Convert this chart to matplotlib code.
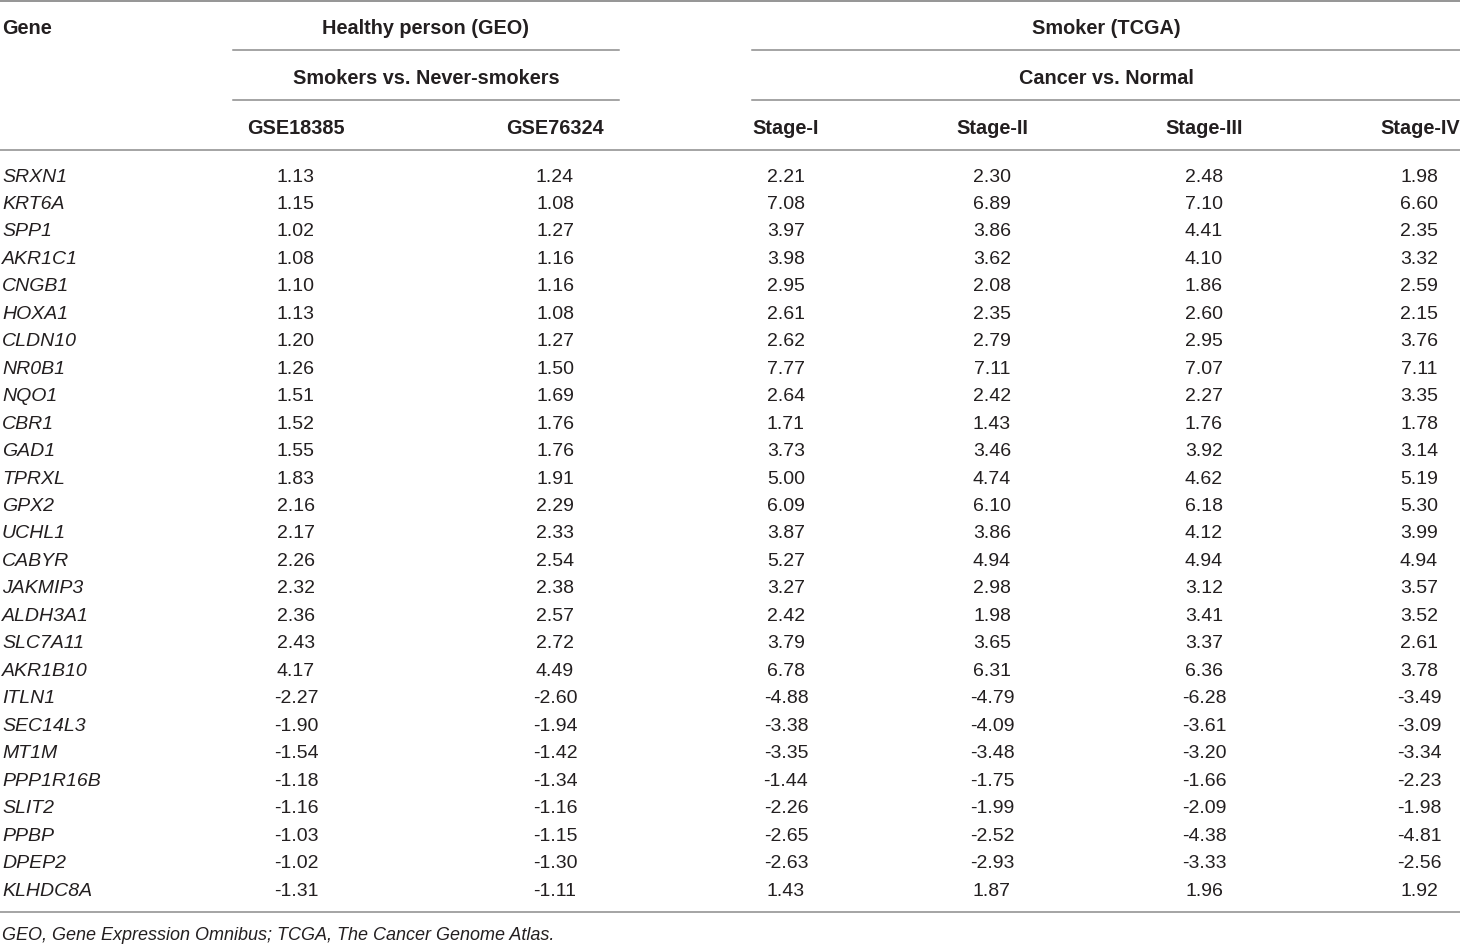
import matplotlib
matplotlib.use("Agg")
from matplotlib import pyplot as plt

genes = ["SRXN1", "KRT6A", "SPP1", "AKR1C1", "CNGB1", "HOXA1", "CLDN10", "NR0B1",
         "NQO1", "CBR1", "GAD1", "TPRXL", "GPX2", "UCHL1", "CABYR", "JAKMIP3",
         "ALDH3A1", "SLC7A11", "AKR1B10", "ITLN1", "SEC14L3", "MT1M", "PPP1R16B",
         "SLIT2", "PPBP", "DPEP2", "KLHDC8A"]

gse18385 = [1.13, 1.15, 1.02, 1.08, 1.10, 1.13, 1.20, 1.26, 1.51, 1.52, 1.55, 1.83,
            2.16, 2.17, 2.26, 2.32, 2.36, 2.43, 4.17, -2.27, -1.90, -1.54, -1.18,
            -1.16, -1.03, -1.02, -1.31]
gse76324 = [1.24, 1.08, 1.27, 1.16, 1.16, 1.08, 1.27, 1.50, 1.69, 1.76, 1.76, 1.91,
            2.29, 2.33, 2.54, 2.38, 2.57, 2.72, 4.49, -2.60, -1.94, -1.42, -1.34,
            -1.16, -1.15, -1.30, -1.11]
stage1 = [2.21, 7.08, 3.97, 3.98, 2.95, 2.61, 2.62, 7.77, 2.64, 1.71, 3.73, 5.00,
          6.09, 3.87, 5.27, 3.27, 2.42, 3.79, 6.78, -4.88, -3.38, -3.35, -1.44,
          -2.26, -2.65, -2.63, 1.43]
stage2 = [2.30, 6.89, 3.86, 3.62, 2.08, 2.35, 2.79, 7.11, 2.42, 1.43, 3.46, 4.74,
          6.10, 3.86, 4.94, 2.98, 1.98, 3.65, 6.31, -4.79, -4.09, -3.48, -1.75,
          -1.99, -2.52, -2.93, 1.87]
stage3 = [2.48, 7.10, 4.41, 4.10, 1.86, 2.60, 2.95, 7.07, 2.27, 1.76, 3.92, 4.62,
          6.18, 4.12, 4.94, 3.12, 3.41, 3.37, 6.36, -6.28, -3.61, -3.20, -1.66,
          -2.09, -4.38, -3.33, 1.96]
stage4 = [1.98, 6.60, 2.35, 3.32, 2.59, 2.15, 3.76, 7.11, 3.35, 1.78, 3.14, 5.19,
          5.30, 3.99, 4.94, 3.57, 3.52, 2.61, 3.78, -3.49, -3.09, -3.34, -2.23,
          -1.98, -4.81, -2.56, 1.92]

col_heads = ["GSE18385", "GSE76324", "Stage-I", "Stage-II", "Stage-III", "Stage-IV"]
footnote = "GEO, Gene Expression Omnibus; TCGA, The Cancer Genome Atlas."

plt.rcParams["font.family"] = ["Liberation Sans", "DejaVu Sans"]

W, H = 1460, 944
fig = plt.figure(figsize=(W / 100, H / 100), dpi=100)
ax = fig.add_axes([0, 0, 1, 1])
ax.set_xlim(0, W)
ax.set_ylim(H, 0)
ax.axis("off")

txt = "#231f20"
line = "#8c8c8c"
fs = 14
hfs = 14.3
dy_text = 2  # nudge text down to sit like the reference

# rules
ax.plot([0, W], [1, 1], color=line, lw=1.3)
ax.plot([233, 619], [50, 50], color=line, lw=1.1)
ax.plot([233, 619], [100, 100], color=line, lw=1.1)
ax.plot([752, W], [50, 50], color=line, lw=1.1)
ax.plot([752, W], [100, 100], color=line, lw=1.1)
ax.plot([0, W], [150, 150], color=line, lw=1.1)
ax.plot([0, W], [912, 912], color=line, lw=1.1)

# headers
ax.text(2, 26 + dy_text, "Gene", ha="left", va="center", fontsize=hfs, fontweight="bold", color=txt)
ax.text(426, 26 + dy_text, "Healthy person (GEO)", ha="center", va="center", fontsize=hfs, fontweight="bold", color=txt)
ax.text(426, 76 + dy_text, "Smokers vs. Never-smokers", ha="center", va="center", fontsize=hfs, fontweight="bold", color=txt)
ax.text(1106, 26 + dy_text, "Smoker (TCGA)", ha="center", va="center", fontsize=hfs, fontweight="bold", color=txt)
ax.text(1106, 76 + dy_text, "Cancer vs. Normal", ha="center", va="center", fontsize=hfs, fontweight="bold", color=txt)

col_x = [296, 555, 786, 992, 1204, 1419]
for cx, h in zip(col_x[:-1], col_heads[:-1]):
    ax.text(cx, 126 + dy_text, h, ha="center", va="center", fontsize=hfs, fontweight="bold", color=txt)
ax.text(W, 126 + dy_text, col_heads[-1], ha="right", va="center", fontsize=hfs, fontweight="bold", color=txt)

# body
y0, dy = 175, (889 - 175) / 26
cols = [gse18385, gse76324, stage1, stage2, stage3, stage4]
for i, g in enumerate(genes):
    y = y0 + i * dy + dy_text
    ax.text(2, y, g, ha="left", va="center", fontsize=fs, style="italic", color=txt)
    for cx, vals in zip(col_x, cols):
        ax.text(cx, y, f"{vals[i]:.2f}", ha="center", va="center", fontsize=fs, color=txt)

ax.text(2, 933 + dy_text, footnote, ha="left", va="center", fontsize=fs - 1, style="italic", color=txt)

fig.savefig("out.png", dpi=100)
